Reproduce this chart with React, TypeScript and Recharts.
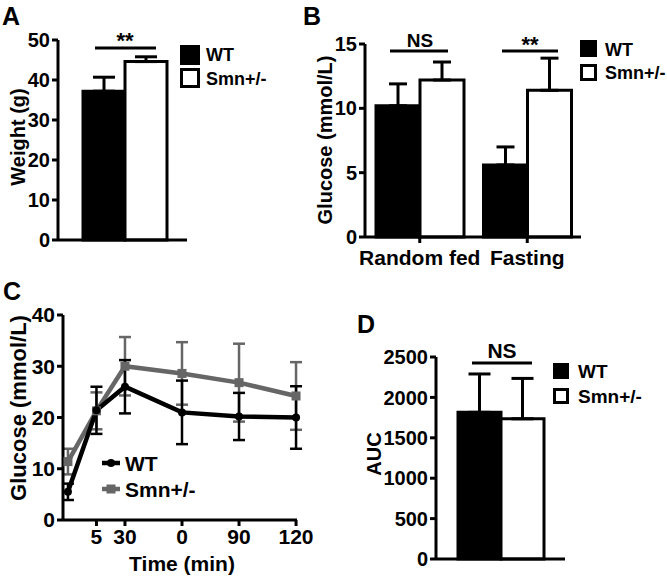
import React from "react";
import { BarChart, Bar, LineChart, Line, XAxis, YAxis, ErrorBar } from "recharts";

const FONT = '"Liberation Sans", Arial, Helvetica, sans-serif';
const BLACK = "#000";
const GREY = "#666";

// A: body weight
const weightCategory = ["Weight"];
const weightWT = [37.2];
const weightWTErr = [3.5];
const weightSmn = [44.6];
const weightSmnErr = [1.2];
const weightTicks = [0, 10, 20, 30, 40, 50];

// B: glucose, random fed vs fasting
const glucoseCategories = ["Random fed", "Fasting"];
const glucoseWT = [10.2, 5.6];
const glucoseWTErr = [1.7, 1.4];
const glucoseSmn = [12.2, 11.4];
const glucoseSmnErr = [1.4, 2.5];
const glucoseTicks = [0, 5, 10, 15];

// C: glucose tolerance test
const gttTimes = [0, 15, 30, 60, 90, 120];
const gttWT = [5.5, 21.4, 26.0, 21.0, 20.2, 20.0];
const gttWTErr = [1.6, 4.6, 5.2, 6.2, 4.6, 6.1];
const gttSmn = [11.4, 21.3, 30.0, 28.6, 26.8, 24.2];
const gttSmnErr = [2.5, 3.6, 5.7, 6.1, 7.6, 6.6];
const gttXTicks = [15, 30, 60, 90, 120];
const gttXTickLabels = ["5", "30", "0", "90", "120"];
const gttYTicks = [0, 10, 20, 30, 40];

// D: area under curve
const aucCategory = ["AUC"];
const aucWT = [1815];
const aucWTErr = [475];
const aucSmn = [1735];
const aucSmnErr = [500];
const aucTicks = [0, 500, 1000, 1500, 2000, 2500];

const weightData = weightCategory.map((name, i) => ({
  name,
  wt: weightWT[i],
  wtErr: [0, weightWTErr[i]],
  smn: weightSmn[i],
  smnErr: [0, weightSmnErr[i]],
}));

const glucoseData = glucoseCategories.map((name, i) => ({
  name,
  wt: glucoseWT[i],
  wtErr: [0, glucoseWTErr[i]],
  smn: glucoseSmn[i],
  smnErr: [0, glucoseSmnErr[i]],
}));

const gttData = gttTimes.map((time, i) => ({
  time,
  wt: gttWT[i],
  wtErr: gttWTErr[i],
  smn: gttSmn[i],
  smnErr: gttSmnErr[i],
}));

const aucData = aucCategory.map((name, i) => ({
  name,
  wt: aucWT[i],
  wtErr: [0, aucWTErr[i]],
  smn: aucSmn[i],
  smnErr: [0, aucSmnErr[i]],
}));

const axisLine = { stroke: BLACK, strokeWidth: 3 };
const tickStyle = (size: number) => ({ fill: BLACK, fontSize: size, fontWeight: 700 });

function renderSquare(props: any) {
  const { cx, cy, index } = props;
  if (cx == null || cy == null) return <g key={index} />;
  return <rect key={index} x={cx - 4.5} y={cy - 4.5} width={9} height={9} fill={GREY} />;
}

function Overlay() {
  const t = { fontFamily: FONT, fontWeight: 700, fill: BLACK } as const;
  return (
    <svg
      width={667}
      height={579}
      style={{ position: "absolute", left: 0, top: 0, pointerEvents: "none" }}
    >
      {/* panel letters */}
      <text x={2} y={25} fontSize={25} {...t}>A</text>
      <text x={303} y={25} fontSize={25} {...t}>B</text>
      <text x={3} y={300} fontSize={25} {...t}>C</text>
      <text x={357} y={333} fontSize={25} {...t}>D</text>

      {/* axis titles */}
      <text x={25} y={137} fontSize={20} textAnchor="middle" transform="rotate(-90 25 137)" {...t}>
        Weight (g)
      </text>
      <text x={332} y={140} fontSize={20} textAnchor="middle" transform="rotate(-90 332 140)" {...t}>
        Glucose (mmol/L)
      </text>
      <text x={26} y={408} fontSize={22} textAnchor="middle" transform="rotate(-90 26 408)" {...t}>
        Glucose (mmol/L)
      </text>
      <text x={381} y={454} fontSize={20} textAnchor="middle" transform="rotate(-90 381 454)" {...t}>
        AUC
      </text>
      <text x={182} y={571} fontSize={21} textAnchor="middle" {...t}>Time (min)</text>

      {/* significance */}
      <line x1={95} y1={48} x2={156} y2={48} stroke={BLACK} strokeWidth={3} />
      <text x={125} y={48} fontSize={22} textAnchor="middle" {...t}>**</text>
      <line x1={390} y1={51} x2={448} y2={51} stroke={BLACK} strokeWidth={3} />
      <text x={420} y={47} fontSize={19} textAnchor="middle" {...t}>NS</text>
      <line x1={502} y1={51} x2={558} y2={51} stroke={BLACK} strokeWidth={3} />
      <text x={530} y={52} fontSize={22} textAnchor="middle" {...t}>**</text>
      <line x1={472} y1={363} x2={532} y2={363} stroke={BLACK} strokeWidth={3} />
      <text x={502} y={358} fontSize={21} textAnchor="middle" {...t}>NS</text>

      {/* legends */}
      <rect x={180} y={45} width={20} height={20} fill={BLACK} />
      <rect x={181.5} y={69.5} width={17} height={17} fill="#fff" stroke={BLACK} strokeWidth={3} />
      <text x={206} y={61} fontSize={18} {...t}>WT</text>
      <text x={206} y={85} fontSize={18} {...t}>Smn+/-</text>

      <rect x={580} y={40} width={17} height={17} fill={BLACK} />
      <rect x={581.5} y={65.5} width={14} height={14} fill="#fff" stroke={BLACK} strokeWidth={3} />
      <text x={605} y={56} fontSize={18} {...t}>WT</text>
      <text x={605} y={79} fontSize={18} {...t}>Smn+/-</text>

      <rect x={553} y={363} width={16} height={16} fill={BLACK} />
      <rect x={554.5} y={389.5} width={13} height={13} fill="#fff" stroke={BLACK} strokeWidth={3} />
      <text x={578} y={378} fontSize={19} {...t}>WT</text>
      <text x={578} y={403} fontSize={19} {...t}>Smn+/-</text>

      <line x1={102} y1={463} x2={120} y2={463} stroke={BLACK} strokeWidth={4.5} />
      <circle cx={111} cy={463} r={4} fill={BLACK} />
      <text x={125} y={471} fontSize={21} {...t}>WT</text>
      <line x1={102} y1={489} x2={120} y2={489} stroke={GREY} strokeWidth={4.5} />
      <rect x={106.5} y={484.5} width={9} height={9} fill={GREY} />
      <text x={125} y={497} fontSize={21} {...t}>Smn+/-</text>
    </svg>
  );
}

export default function App() {
  return (
    <div
      style={{
        position: "absolute",
        left: 0,
        top: 0,
        width: 667,
        height: 579,
        background: "#fff",
        fontFamily: FONT,
        fontWeight: 700,
      }}
    >
      {/* A */}
      <div style={{ position: "absolute", left: 0, top: 0 }}>
        <BarChart
          width={200}
          height={270}
          data={weightData}
          margin={{ top: 40, right: 13, bottom: 0, left: 0 }}
          barGap={0}
          barSize={42}
        >
          <XAxis dataKey="name" height={30} axisLine={axisLine} tick={false} tickLine={false} padding={{ left: 5, right: 0 }} />
          <YAxis
            width={58}
            domain={[0, 50]}
            ticks={weightTicks}
            axisLine={axisLine}
            tickLine={axisLine}
            tickSize={6}
            tick={tickStyle(20)}
          />
          <Bar dataKey="wt" fill={BLACK} stroke={BLACK} strokeWidth={3} isAnimationActive={false}>
            <ErrorBar dataKey="wtErr" width={11} stroke={BLACK} strokeWidth={3} direction="y" isAnimationActive={false} />
          </Bar>
          <Bar dataKey="smn" fill="#fff" stroke={BLACK} strokeWidth={3} isAnimationActive={false}>
            <ErrorBar dataKey="smnErr" width={11} stroke={BLACK} strokeWidth={3} direction="y" isAnimationActive={false} />
          </Bar>
        </BarChart>
      </div>

      {/* B */}
      <div style={{ position: "absolute", left: 300, top: 0 }}>
        <BarChart
          width={300}
          height={270}
          data={glucoseData}
          margin={{ top: 44, right: 19, bottom: 0, left: 0 }}
          barGap={0}
          barSize={44}
        >
          <XAxis
            dataKey="name"
            height={33}
            axisLine={axisLine}
            tickLine={axisLine}
            tickSize={6}
            tickMargin={7}
            tick={tickStyle(21)}
            interval={0}
            padding={{ left: 1, right: 0 }}
          />
          <YAxis
            width={65}
            domain={[0, 15]}
            ticks={glucoseTicks}
            axisLine={axisLine}
            tickLine={axisLine}
            tickSize={6}
            tick={tickStyle(20)}
          />
          <Bar dataKey="wt" fill={BLACK} stroke={BLACK} strokeWidth={3} isAnimationActive={false}>
            <ErrorBar dataKey="wtErr" width={9} stroke={BLACK} strokeWidth={3} direction="y" isAnimationActive={false} />
          </Bar>
          <Bar dataKey="smn" fill="#fff" stroke={BLACK} strokeWidth={3} isAnimationActive={false}>
            <ErrorBar dataKey="smnErr" width={9} stroke={BLACK} strokeWidth={3} direction="y" isAnimationActive={false} />
          </Bar>
        </BarChart>
      </div>

      {/* C */}
      <div style={{ position: "absolute", left: 0, top: 270 }}>
        <LineChart
          width={320}
          height={309}
          data={gttData}
          margin={{ top: 45, right: 23, bottom: 0, left: 0 }}
        >
          <XAxis
            dataKey="time"
            type="number"
            domain={[-2.6, 120.5]}
            ticks={gttXTicks}
            tickFormatter={(v: number) => gttXTickLabels[gttXTicks.indexOf(v)]}
            height={59}
            axisLine={axisLine}
            tickLine={axisLine}
            tickSize={6}
            tickMargin={3}
            tick={tickStyle(21)}
            interval={0}
          />
          <YAxis
            width={63}
            domain={[0, 40]}
            ticks={gttYTicks}
            axisLine={axisLine}
            tickLine={axisLine}
            tickSize={6}
            tick={tickStyle(21)}
          />
          <Line
            dataKey="smn"
            stroke={GREY}
            strokeWidth={4.5}
            dot={renderSquare}
            isAnimationActive={false}
          >
            <ErrorBar dataKey="smnErr" width={6} stroke={GREY} strokeWidth={2.5} direction="y" isAnimationActive={false} />
          </Line>
          <Line
            dataKey="wt"
            stroke={BLACK}
            strokeWidth={4.5}
            dot={{ r: 4, fill: BLACK, stroke: BLACK, strokeWidth: 0 }}
            isAnimationActive={false}
          >
            <ErrorBar dataKey="wtErr" width={6} stroke={BLACK} strokeWidth={2.5} direction="y" isAnimationActive={false} />
          </Line>
        </LineChart>
      </div>

      {/* D */}
      <div style={{ position: "absolute", left: 370, top: 290 }}>
        <BarChart
          width={210}
          height={289}
          data={aucData}
          margin={{ top: 67, right: 15, bottom: 0, left: 0 }}
          barGap={0}
          barSize={43}
        >
          <XAxis dataKey="name" height={20} axisLine={axisLine} tick={false} tickLine={false} />
          <YAxis
            width={66}
            domain={[0, 2500]}
            ticks={aucTicks}
            axisLine={axisLine}
            tickLine={axisLine}
            tickSize={6}
            tick={tickStyle(20)}
          />
          <Bar dataKey="wt" fill={BLACK} stroke={BLACK} strokeWidth={3} isAnimationActive={false}>
            <ErrorBar dataKey="wtErr" width={11} stroke={BLACK} strokeWidth={3} direction="y" isAnimationActive={false} />
          </Bar>
          <Bar dataKey="smn" fill="#fff" stroke={BLACK} strokeWidth={3} isAnimationActive={false}>
            <ErrorBar dataKey="smnErr" width={11} stroke={BLACK} strokeWidth={3} direction="y" isAnimationActive={false} />
          </Bar>
        </BarChart>
      </div>

      <Overlay />
    </div>
  );
}
